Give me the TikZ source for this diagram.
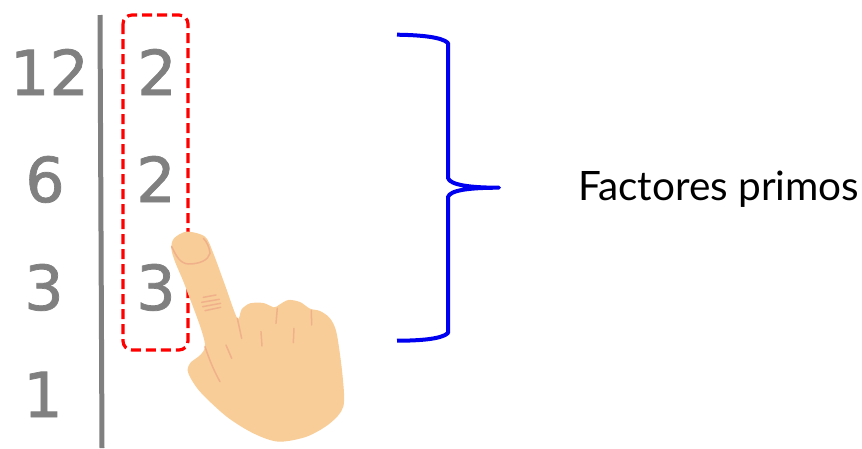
\documentclass[tikz,border=0pt]{standalone}
\usepackage{fontspec}
\setmainfont{DejaVu Sans}
\newfontfamily\digitfont[FakeBold=1.2]{DejaVu Sans}
\newfontfamily\labelfont{Lato}
\definecolor{digitgray}{HTML}{808080}
\definecolor{skin}{HTML}{F8CD98}
\definecolor{crease}{HTML}{EFB08A}
\definecolor{bracec}{HTML}{0000F0}
\tikzset{
  digit/.style={anchor=base,inner sep=0pt,text=digitgray,font=\digitfont\fontsize{62}{62}\selectfont},
  crease line/.style={draw=crease,line width=1.5pt,line cap=round},
  brace line/.style={draw=bracec,line width=4pt,line join=round},
  pick box/.style={draw=red,line width=3.2pt,dash pattern=on 10pt off 5pt,rounded corners=9pt},
}
\begin{document}
\begin{tikzpicture}[x=1pt,y=-1pt]
\useasboundingbox (0,0) rectangle (862,448);
\draw[digitgray,line width=5pt] (100,15) -- (102,448);
\node[digit] (n12) at (49.5,95) {12};
\node[digit] (n6) at (45,202) {6};
\node[digit] (n3) at (44,310) {3};
\node[digit] (n1) at (43,417) {1};
\node[digit] (f1) at (157,95) {2};
\node[digit] (f2) at (156,202) {2};
\node[digit] (f3) at (156,310) {3};
\draw[pick box] (123,15) rectangle (188,350);
\draw[brace line] (397,34.7) .. controls (420,35) and (442,37) .. (448,43)
  -- (448,178) .. controls (450,185) and (470,187.7) .. (499,187.7)
  .. controls (470,187.7) and (450,190) .. (448,197)
  -- (448,333) .. controls (442,339) and (420,340.7) .. (397,340.7);
\node[anchor=base west,inner sep=0pt,font=\labelfont\fontsize{40.5}{40.5}\selectfont] (lab) at (578,200) {Factores primos};
\begin{scope}[shift={(150,210)},x=.3333pt,y=-.3333pt]
\fill[skin] plot[smooth cycle,tension=.5] coordinates {
 (110,65) (72,85) (64,115) (75,155) (110,240) (165,405) (120,460) (115,490) (150,545)
 (230,620) (310,670) (385,695) (470,680) (540,640) (580,590) (578,500)
 (560,370) (540,325) (510,303) (480,296) (450,276) (415,270) (388,284) (372,292)
 (340,279) (300,280) (275,298) (262,325)
 (225,225) (190,130) (165,80)};
\draw[crease line] (65,110) .. controls (80,140) and (90,160) .. (115,162)
  .. controls (150,162) and (175,150) .. (180,130) .. controls (178,110) and (170,95) .. (160,85);
\draw[crease line] (160,262) -- (198,255);
\draw[crease line] (155,277) -- (208,268);
\draw[crease line] (158,290) -- (212,280);
\draw[crease line] (165,302) -- (212,292);
\draw[crease line] (165,410) .. controls (175,440) and (190,480) .. (210,515);
\draw[crease line] (228,405) -- (245,445);
\draw[crease line] (262,325) -- (275,385);
\draw[crease line] (333,365) -- (336,408);
\draw[crease line] (432,355) -- (430,398);
\draw[crease line] (382,295) -- (378,340);
\draw[crease line] (484,302) -- (485,345);
\end{scope}
\end{tikzpicture}
\end{document}
